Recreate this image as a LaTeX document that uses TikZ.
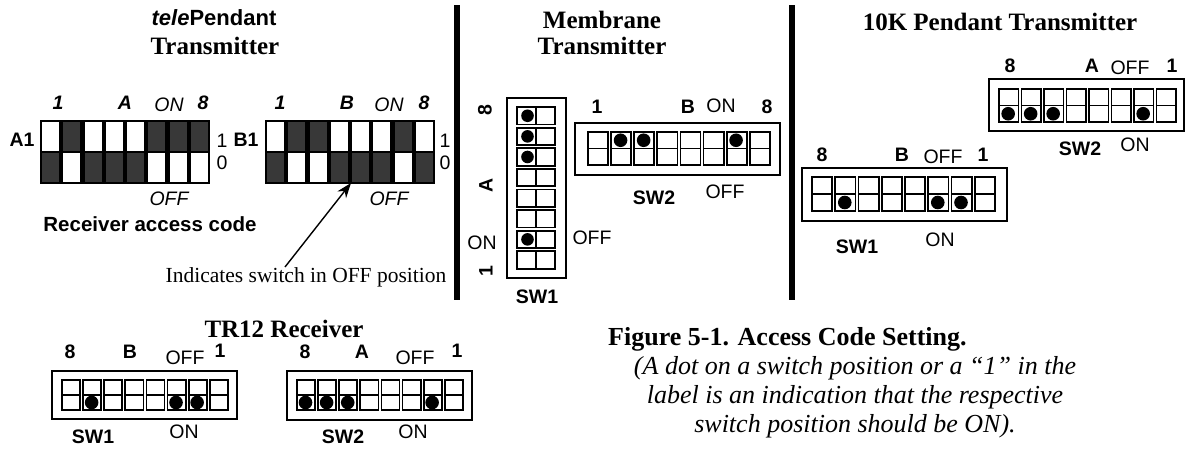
\documentclass[tikz,border=0pt]{standalone}
\usepackage{fontspec}
\setmainfont{Liberation Serif}
\setsansfont{Liberation Sans}
\usetikzlibrary{arrows.meta}
\definecolor{dk}{HTML}{383838}
\newcommand\fsz[1]{\fontsize{#1pt}{#1pt}\selectfont}
\tikzset{
  lab/.style={font=\sffamily\fsz{19.5}, inner sep=0pt},
  blab/.style={font=\sffamily\bfseries\fsz{19.5}, inner sep=0pt},
  ilab/.style={font=\sffamily\itshape\fsz{19.5}, inner sep=0pt},
  bilab/.style={font=\sffamily\bfseries\itshape\fsz{19.5}, inner sep=0pt},
  ttl/.style={font=\bfseries\fsz{25}, inner sep=0pt},
  outerbox/.style={draw=black, line width=1.5pt},
  cell/.style={draw=black, line width=1.8pt},
  sepline/.style={line width=6pt},
}
% tele switch: x0, y0, pattern (1 = top dark)
\newcommand\teleSw[3]{%
  \fill[black] (#1,#2) rectangle ({#1+170},{#2+64});
  \foreach \t [count=\i from 0] in {#3} {%
    \pgfmathsetmacro\cx{#1+21.25*\i}%
    \ifnum\t=1 \def\tc{dk}\def\bc{white}\else\def\tc{white}\def\bc{dk}\fi
    \fill[\tc] ({\cx+2.2},{#2+2}) rectangle ({\cx+19},{#2+31});
    \fill[\bc] ({\cx+2.2},{#2+33}) rectangle ({\cx+19},{#2+62});
  }%
}
% horizontal white dip: x0, y0, pitch, height, row (0 top / 1 bottom), dots
\newcommand\dipH[6]{%
  \foreach \i in {0,...,7} {%
    \draw[cell] ({#1+#3*\i},#2) rectangle ({#1+#3*\i+#3-3},{#2+#4});
    \draw[cell] ({#1+#3*\i},{#2+#4/2}) -- ({#1+#3*\i+#3-3},{#2+#4/2});
  }%
  \foreach \d in {#6} {%
    \fill ({#1+#3*(\d-1)+0.47*(#3-3)},{#2+#4/4+#5*#4/2}) circle[radius=6.8pt];
  }%
}
\begin{document}
\begin{tikzpicture}[x=1pt,y=-1pt]
\useasboundingbox (0,0) rectangle (1186,453);
\fill[white] (0,0) rectangle (1186,453);

% separators
\draw[sepline] (456.5,5) -- (456.5,300);
\draw[sepline] (791.5,5) -- (791.5,300);

% ===== telePendant =====
\node[font=\sffamily\bfseries\fsz{22}, inner sep=0pt] (tpt) at (214,18) {\textit{tele}Pendant};
\node[ttl] (tpt2) at (215,46) {Transmitter};
\teleSw{40}{120}{0,1,0,0,0,1,1,1}
\node[bilab] (a1l1) at (58,103) {1};
\node[bilab] (a1lA) at (125,103) {A};
\node[ilab] (a1on) at (169,105) {ON};
\node[bilab] (a1l8) at (203,103) {8};
\node[blab] (a1) at (22,140) {A1};
\node[lab] (a1one) at (222,141) {1};
\node[lab] (a1zero) at (222,163) {0};
\node[ilab] (a1off) at (169,199) {OFF};
\teleSw{265}{120}{0,1,1,0,0,0,1,0}
\node[bilab] (b1l1) at (280,103) {1};
\node[bilab] (b1lB) at (347,103) {B};
\node[ilab] (b1on) at (389,105) {ON};
\node[bilab] (b1l8) at (424,103) {8};
\node[blab] (b1) at (246,140) {B1};
\node[lab] (b1one) at (445,141) {1};
\node[lab] (b1zero) at (445,163) {0};
\node[ilab] (b1off) at (389,199) {OFF};
\node[font=\sffamily\bfseries\fsz{20.5}, inner sep=0pt] (rac) at (150,224) {Receiver access code};
\node[font=\fsz{21.5}, inner sep=0pt] (ind) at (306,277) {Indicates switch in OFF position};
\coordinate (arrS) at (285,267);
\coordinate (arrT) at (351,183);
\draw[line width=1.4pt, -{Stealth[length=15pt,width=11pt]}] (arrS) -- (arrT);

% ===== Membrane =====
\node[ttl] (mt1) at (602,20) {Membrane};
\node[ttl] (mt2) at (602,46) {Transmitter};
\draw[outerbox] (507,98) rectangle (566,278);
\foreach \j in {0,...,7} {
  \draw[cell] (517,{107+20.6*\j}) rectangle (555,{107+20.6*\j+17.5});
  \draw[cell] (536,{107+20.6*\j}) -- (536,{107+20.6*\j+17.5});
}
\foreach \j in {0,1,2,6} {
  \fill (527.5,{107+20.6*\j+8.75}) circle[radius=6.3pt];
}
\node[blab, rotate=90] (m8) at (485,110) {8};
\node[blab, rotate=90] (mA) at (486,185) {A};
\node[blab, rotate=90] (m1) at (486,271) {1};
\node[lab] (mon) at (482,243) {ON};
\node[lab] (moff) at (592,238) {OFF};
\node[blab] (msw1) at (537,297) {SW1};
\draw[outerbox] (575,123) rectangle (780,175);
\dipH{588}{132}{23.1}{33}{0}{2,3,7}
\node[blab] (ms1) at (597,107) {1};
\node[blab] (msB) at (688,107) {B};
\node[lab] (mson) at (721,106) {ON};
\node[blab] (ms8) at (767,107) {8};
\node[blab] (msw2) at (654,198) {SW2};
\node[lab] (msoff) at (725,192) {OFF};

% ===== 10K Pendant =====
\node[ttl] (kt) at (1000,22) {10K Pendant Transmitter};
\draw[outerbox] (989,79) rectangle (1184,131);
\dipH{999}{89}{22.5}{33}{1}{1,2,3,7}
\node[blab] (k28) at (1010,66) {8};
\node[blab] (k2A) at (1092,66) {A};
\node[lab] (k2off) at (1130,68) {OFF};
\node[blab] (k21) at (1172,66) {1};
\node[blab] (ksw2) at (1080,149) {SW2};
\node[lab] (k2on) at (1135,145) {ON};
\draw[outerbox] (802,168) rectangle (1007,221);
\dipH{812}{177}{23.25}{34}{1}{2,6,7}
\node[blab] (k18) at (822,155) {8};
\node[blab] (k1B) at (902,155) {B};
\node[lab] (k1off) at (943,157) {OFF};
\node[blab] (k11) at (983,155) {1};
\node[blab] (ksw1) at (857,247) {SW1};
\node[lab] (k1on) at (940,240) {ON};

% ===== TR12 Receiver =====
\node[ttl] (tr) at (284,329) {TR12 Receiver};
\draw[outerbox] (52,371) rectangle (237,419);
\dipH{62}{380}{21.1}{30}{1}{2,6,7}
\node[blab] (t18) at (70,352) {8};
\node[blab] (t1B) at (130,352) {B};
\node[lab] (t1off) at (185,358) {OFF};
\node[blab] (t11) at (220,351) {1};
\node[blab] (tsw1) at (93,437) {SW1};
\node[lab] (t1on) at (184,432) {ON};
\draw[outerbox] (287,371) rectangle (472,420);
\dipH{297}{380}{21.1}{30}{1}{1,2,3,7}
\node[blab] (t28) at (305,352) {8};
\node[blab] (t2A) at (362,352) {A};
\node[lab] (t2off) at (415,358) {OFF};
\node[blab] (t21) at (457,351) {1};
\node[blab] (tsw2) at (343,437) {SW2};
\node[lab] (t2on) at (413,432) {ON};

% ===== Caption =====
\node[anchor=base west, font=\bfseries\fsz{26}, inner sep=0pt] (figt) at (608,345) {Figure 5-1. Access Code Setting.};
\node[anchor=base, font=\itshape\fsz{26}, inner sep=0pt] (c1) at (855,374) {(A dot on a switch position or a “1” in the};
\node[anchor=base, font=\itshape\fsz{26}, inner sep=0pt] (c2) at (855,403) {label is an indication that the respective};
\node[anchor=base, font=\itshape\fsz{26}, inner sep=0pt] (c3) at (855,432) {switch position should be ON).};
\end{tikzpicture}
\end{document}
